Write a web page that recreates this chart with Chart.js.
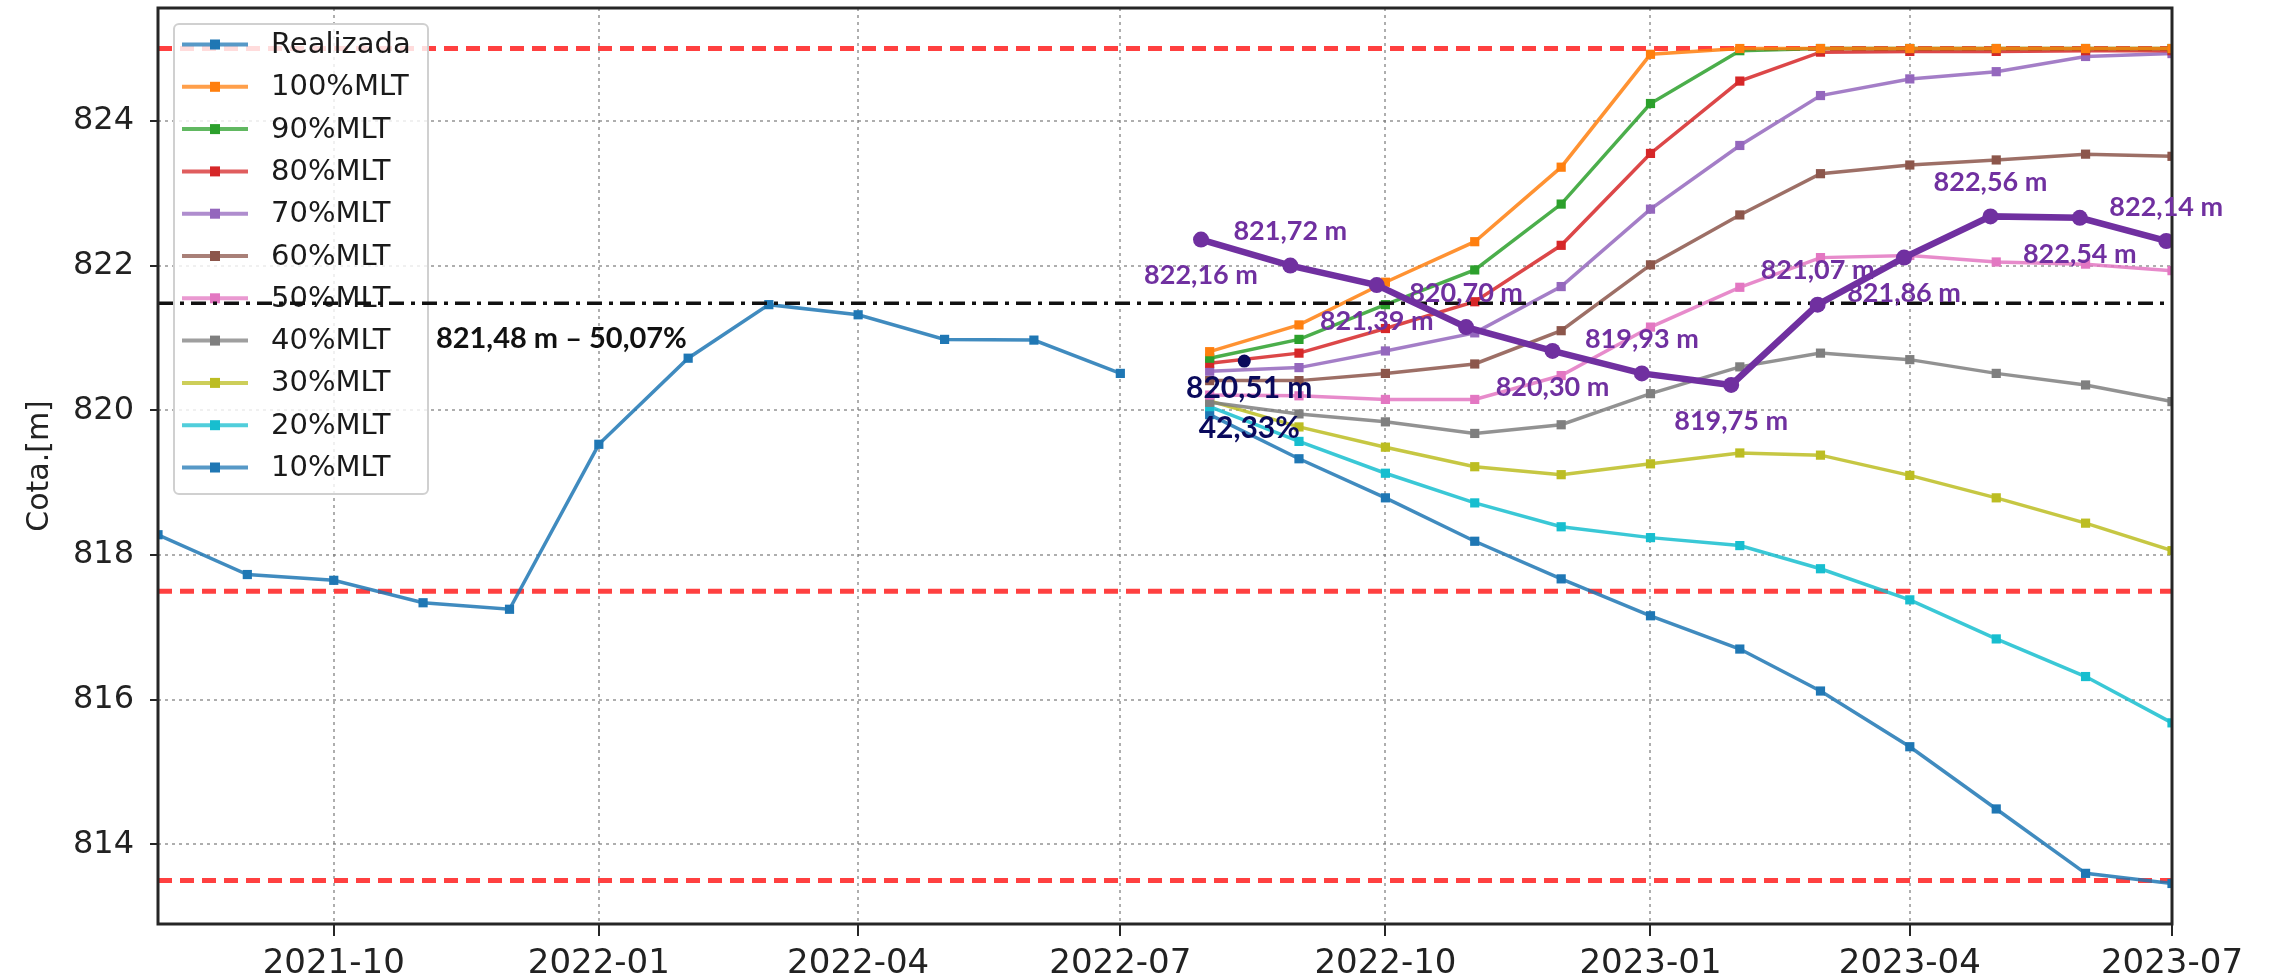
<!DOCTYPE html>
<html>
<head>
  <title>Cota - Realizada e previsões %MLT</title>
  <script src="https://cdn.jsdelivr.net/npm/chart.js@4.4.0/dist/chart.umd.min.js"></script>
  <style>body { margin: 0; background: #fff; }</style>
</head>
<body>
  <canvas id="myChart" width="2269" height="978"></canvas>
  <script>
    // realised reservoir level, monthly
    var realDates = ['2021-08-01', '2021-09-01', '2021-10-01', '2021-11-01', '2021-12-01', '2022-01-01',
                     '2022-02-01', '2022-03-01', '2022-04-01', '2022-05-01', '2022-06-01', '2022-07-01'];
    var realizada = [818.28, 817.73, 817.65, 817.34, 817.25, 819.53, 820.72, 821.46, 821.32, 820.98, 820.97, 820.51];

    // forecast scenarios (% of long term mean inflow)
    var prevDates = ['2022-08-01', '2022-09-01', '2022-10-01', '2022-11-01', '2022-12-01', '2023-01-01',
                     '2023-02-01', '2023-03-01', '2023-04-01', '2023-05-01', '2023-06-01', '2023-07-01'];
    var mlt100 = [820.81, 821.18, 821.77, 822.33, 823.36, 824.92, 825.00, 825.00, 825.00, 825.00, 825.00, 825.00];
    var mlt90  = [820.72, 820.98, 821.46, 821.94, 822.85, 824.24, 824.97, 825.00, 825.00, 825.00, 825.00, 825.00];
    var mlt80  = [820.65, 820.79, 821.13, 821.50, 822.28, 823.55, 824.55, 824.95, 824.96, 824.96, 824.97, 824.97];
    var mlt70  = [820.54, 820.59, 820.82, 821.07, 821.71, 822.78, 823.66, 824.35, 824.58, 824.68, 824.89, 824.93];
    var mlt60  = [820.41, 820.41, 820.51, 820.64, 821.10, 822.01, 822.70, 823.27, 823.39, 823.46, 823.54, 823.51];
    var mlt50  = [820.21, 820.20, 820.15, 820.15, 820.48, 821.15, 821.70, 822.11, 822.14, 822.05, 822.02, 821.93];
    var mlt40  = [820.11, 819.95, 819.84, 819.68, 819.80, 820.23, 820.60, 820.79, 820.70, 820.51, 820.35, 820.12];
    var mlt30  = [820.13, 819.77, 819.49, 819.22, 819.11, 819.26, 819.41, 819.38, 819.10, 818.79, 818.44, 818.06];
    var mlt20  = [820.05, 819.57, 819.13, 818.72, 818.39, 818.24, 818.13, 817.81, 817.38, 816.84, 816.32, 815.68];
    var mlt10  = [819.94, 819.33, 818.79, 818.19, 817.67, 817.16, 816.70, 816.12, 815.35, 814.49, 813.60, 813.46];

    var seriesNames = ['100%MLT', '90%MLT', '80%MLT', '70%MLT', '60%MLT', '50%MLT', '40%MLT', '30%MLT', '20%MLT', '10%MLT'];
    var seriesValues = [mlt100, mlt90, mlt80, mlt70, mlt60, mlt50, mlt40, mlt30, mlt20, mlt10];

    // highlighted path with its labels
    var destDates = ['2022-07-29', '2022-08-29', '2022-09-28', '2022-10-29', '2022-11-28', '2022-12-29',
                     '2023-01-29', '2023-02-28', '2023-03-30', '2023-04-29', '2023-05-30', '2023-06-29'];
    var destaque = [822.36, 822.00, 821.73, 821.15, 820.82, 820.51, 820.35, 821.46, 822.11, 822.68, 822.66, 822.34];
    var destLabels = ['822,16 m', '821,72 m', '821,39 m', '820,70 m', '820,30 m', '819,93 m',
                      '819,75 m', '821,07 m', '821,86 m', '822,56 m', '822,54 m', '822,14 m'];

    // current point
    var atualDate = '2022-08-13';
    var atualValue = 820.68;
    var atualLabels = ['820,51 m', '42,33%'];

    // reference levels
    var limites = [825.0, 817.5, 813.5];
    var metaValue = 821.48;
    var metaLabel = '821,48 m \u2013 50,07%';
    var metaLabelDate = '2021-12-19';

    var xTicks = ['2021-10', '2022-01', '2022-04', '2022-07', '2022-10', '2023-01', '2023-04', '2023-07'];
    var yTicks = [814, 816, 818, 820, 822, 824];

    var colors = ['#ff7f0e', '#2ca02c', '#d62728', '#9467bd', '#8c564b', '#e377c2', '#7f7f7f', '#bcbd22', '#17becf', '#1f77b4'];
    var realColor = '#1f77b4';
    var purple = '#7030a0';
    var navy = '#0a0a5c';

    function toDay(s) { return Date.parse(s) / 86400000; }
    function pts(dates, vals) {
      return dates.map(function(d, i) { return {x: toDay(d), y: vals[i]}; });
    }
    var xMin = toDay(realDates[0]), xMax = toDay(prevDates[prevDates.length - 1]);

    function lineSet(label, data, color, order) {
      return {
        label: label, data: data, order: order,
        borderColor: color + 'd9', borderWidth: 3.5,
        pointStyle: 'rect', pointRadius: 6.5, pointBorderWidth: 0,
        pointBackgroundColor: color, tension: 0, fill: false
      };
    }

    var datasets = [];
    limites.forEach(function(v) {
      datasets.push({
        label: 'limite', data: [{x: xMin, y: v}, {x: xMax, y: v}], order: 10,
        borderColor: '#ff4040', borderWidth: 5, borderDash: [14, 8], pointRadius: 0
      });
    });
    seriesNames.forEach(function(name, i) {
      datasets.push(lineSet(name, pts(prevDates, seriesValues[i]), colors[i], 9));
    });
    datasets.push(lineSet('Realizada', pts(realDates, realizada), realColor, 8));
    datasets.push({
      label: 'meta', data: [{x: xMin, y: metaValue}, {x: xMax, y: metaValue}], order: 3,
      borderColor: '#111', borderWidth: 3.5, borderDash: [15, 7, 4, 7], pointRadius: 0
    });
    datasets.push({
      label: 'destaque', data: pts(destDates, destaque), order: 2,
      borderColor: purple, borderWidth: 6.5, pointRadius: 8, pointBackgroundColor: purple,
      pointBorderWidth: 0, tension: 0
    });
    datasets.push({
      label: 'atual', data: [{x: toDay(atualDate), y: atualValue}], order: 1, showLine: false,
      pointRadius: 6.5, pointBackgroundColor: navy, pointBorderWidth: 0
    });

    function findSet(label) {
      for (var i = 0; i < datasets.length; i++) if (datasets[i].label === label) return i;
      return -1;
    }

    // matplotlib style legend, drawn just before the dash-dot line
    var legendBox = {
      id: 'legendBox',
      beforeDatasetDraw: function(chart, args) {
        if (chart.data.datasets[args.index].label !== 'meta') return;
        var ctx = chart.ctx, a = chart.chartArea;
        var x0 = a.left + 16, y0 = a.top + 16, w = 254, h = 470, step = 42.3;
        var names = ['Realizada'].concat(seriesNames);
        var cols = [realColor].concat(colors);
        ctx.save();
        ctx.beginPath();
        ctx.roundRect(x0, y0, w, h, 5);
        ctx.fillStyle = 'rgba(255,255,255,0.82)';
        ctx.fill();
        ctx.strokeStyle = '#d0d0d0';
        ctx.lineWidth = 2;
        ctx.stroke();
        ctx.font = '29px "DejaVu Sans"';
        ctx.textBaseline = 'middle';
        names.forEach(function(n, i) {
          var y = y0 + 20.5 + i * step;
          ctx.strokeStyle = cols[i] + 'bf';
          ctx.lineWidth = 4;
          ctx.beginPath();
          ctx.moveTo(x0 + 8, y);
          ctx.lineTo(x0 + 74, y);
          ctx.stroke();
          ctx.fillStyle = cols[i];
          ctx.fillRect(x0 + 36, y - 5, 10, 10);
          ctx.fillStyle = '#1a1a1a';
          ctx.fillText(n, x0 + 97, y + 1);
        });
        ctx.restore();
      }
    };

    // axes frame and text annotations
    var overlay = {
      id: 'overlay',
      afterDatasetsDraw: function(chart) {
        var ctx = chart.ctx, a = chart.chartArea;
        ctx.save();
        ctx.strokeStyle = '#262626';
        ctx.lineWidth = 3;
        ctx.strokeRect(a.left, a.top, a.right - a.left, a.bottom - a.top);

        ctx.textAlign = 'center';
        ctx.textBaseline = 'middle';
        ctx.font = 'bold 27px Lato';
        ctx.fillStyle = purple;
        var pm = chart.getDatasetMeta(findSet('destaque')).data;
        destLabels.forEach(function(t, i) {
          var p = pm[i];
          ctx.fillText(t, p.x, p.y + (i % 2 === 0 ? 36 : -34));
        });

        var am = chart.getDatasetMeta(findSet('atual')).data[0];
        ctx.font = 'bold 30px Lato';
        ctx.fillStyle = navy;
        ctx.fillText(atualLabels[0], am.x + 5, am.y + 27);
        ctx.fillText(atualLabels[1], am.x + 5, am.y + 67);

        var xs = chart.scales.x, ys = chart.scales.y;
        ctx.font = 'bold 29px Lato';
        ctx.fillStyle = '#111';
        ctx.fillText(metaLabel, xs.getPixelForValue(toDay(metaLabelDate)), ys.getPixelForValue(metaValue) + 35);
        ctx.restore();
      }
    };

    var ctx = document.getElementById('myChart').getContext('2d');
    var chart = new Chart(ctx, {
      type: 'line',
      data: { datasets: datasets },
      plugins: [legendBox, overlay],
      options: {
        responsive: false,
        animation: false,
        devicePixelRatio: 1,
        events: [],
        layout: { padding: { left: 0, right: 97, top: 7, bottom: 0 } },
        plugins: { legend: { display: false }, tooltip: { enabled: false } },
        scales: {
          x: {
            type: 'linear',
            min: xMin, max: xMax,
            afterBuildTicks: function(s) {
              s.ticks = xTicks.map(function(t) { return {value: toDay(t + '-01')}; });
            },
            afterFit: function(s) { s.height = 54; s.paddingLeft = 0; s.paddingRight = 0; },
            ticks: {
              autoSkip: false, maxRotation: 0, padding: 8, color: '#222',
              font: { family: 'DejaVu Sans', size: 34 },
              callback: function(v, i) { return xTicks[i]; }
            },
            grid: { color: 'rgba(120,120,120,0.6)', lineWidth: 2, tickLength: 12, tickColor: '#262626', tickWidth: 2 },
            border: { display: false, dash: [3, 4] }
          },
          y: {
            min: 812.9, max: 825.56,
            afterBuildTicks: function(s) {
              s.ticks = yTicks.map(function(v) { return {value: v}; });
            },
            afterFit: function(s) { s.width = 158; s.paddingTop = 0; s.paddingBottom = 0; },
            ticks: { padding: 16, color: '#222', font: { family: 'DejaVu Sans', size: 32 } },
            grid: { color: 'rgba(120,120,120,0.6)', lineWidth: 2, tickLength: 8, tickColor: '#262626', tickWidth: 2 },
            border: { display: false, dash: [3, 4] },
            title: { display: true, text: 'Cota.[m]', color: '#222', padding: { top: 22, bottom: 0 },
                     font: { family: 'DejaVu Sans', size: 30 } }
          }
        }
      }
    });
  </script>
</body>
</html>
